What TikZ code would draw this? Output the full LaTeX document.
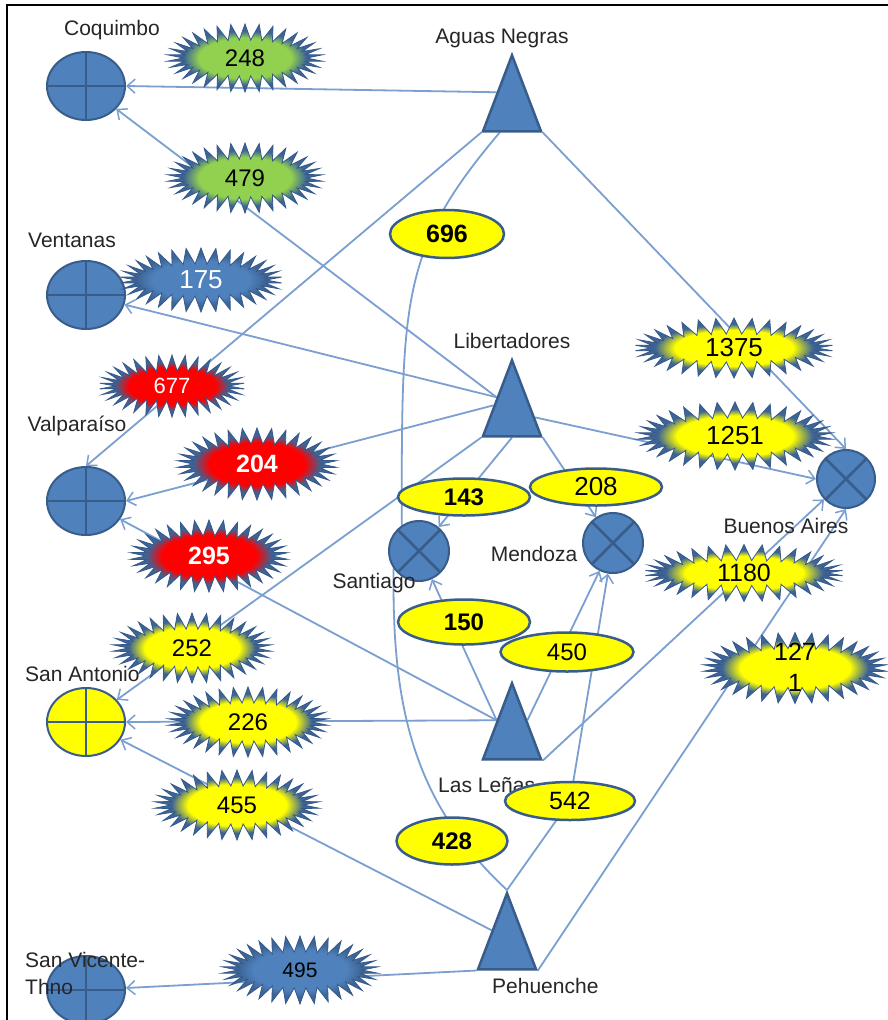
\documentclass[tikz,border=0pt]{standalone}
\usepackage{fontspec}
\setmainfont{Liberation Sans}
\usetikzlibrary{shapes.geometric,shapes.symbols,arrows.meta,calc,backgrounds}
\definecolor{lineBlue}{HTML}{7A9FD0}
\definecolor{nodeBlue}{HTML}{4F81BD}
\definecolor{nodeBorder}{HTML}{385D8A}
\definecolor{sbBlue}{HTML}{3D6494}
\definecolor{sbEdge}{HTML}{35598A}
\definecolor{txtGray}{HTML}{262626}
\definecolor{glowGreen}{HTML}{92D050}
\definecolor{glowYellow}{HTML}{FFFF00}
\definecolor{glowRed}{HTML}{FF0000}
\pgfdeclareradialshading{glowY}{\pgfpoint{0bp}{0bp}}{color(0bp)=(glowYellow); color(15bp)=(glowYellow); color(20bp)=(sbBlue); color(50bp)=(sbBlue)}
\pgfdeclareradialshading{glowG}{\pgfpoint{0bp}{0bp}}{color(0bp)=(glowGreen); color(15bp)=(glowGreen); color(20bp)=(sbBlue); color(50bp)=(sbBlue)}
\pgfdeclareradialshading{glowR}{\pgfpoint{0bp}{0bp}}{color(0bp)=(glowRed); color(15bp)=(glowRed); color(20bp)=(sbBlue); color(50bp)=(sbBlue)}
\pgfdeclareradialshading{glowB}{\pgfpoint{0bp}{0bp}}{color(0bp)=(nodeBlue); color(15bp)=(nodeBlue); color(20bp)=(sbBlue); color(50bp)=(sbBlue)}
\tikzset{
  conn/.style={draw=lineBlue, line width=1.8pt},
  arr/.style={conn, -{Straight Barb[length=8pt,width=14pt,line width=1.5pt]}},
  port/.style={ellipse, draw=nodeBorder, line width=2pt, fill=nodeBlue, minimum width=78pt, minimum height=68pt, inner sep=0pt,
    path picture={\draw[nodeBorder, line width=2.5pt] (path picture bounding box.north) -- (path picture bounding box.south) (path picture bounding box.west) -- (path picture bounding box.east);}},
  city/.style={circle, draw=nodeBorder, line width=2pt, fill=nodeBlue, minimum size=60pt, inner sep=0pt,
    path picture={\draw[nodeBorder, line width=2.5pt] (path picture bounding box.north west) -- (path picture bounding box.south east) (path picture bounding box.north east) -- (path picture bounding box.south west);}},
  pass/.style={isosceles triangle, isosceles triangle stretches, shape border rotate=90, draw=nodeBorder, line width=2.5pt, fill=nodeBlue, minimum width=58pt, minimum height=76pt, inner sep=0pt, anchor=apex},
  place/.style={text=txtGray, font=\fontsize{21}{27}\selectfont, inner sep=0pt},
  burst/.style={starburst, starburst points=34, starburst point height=16pt, random starburst=0, draw=sbEdge, line width=0.8pt, inner sep=0pt, font=\fontsize{24}{31}\selectfont, shade},
  lens/.style={ellipse, draw=nodeBorder, line width=2.5pt, fill=glowYellow, inner sep=0pt, font=\fontsize{24}{26}\selectfont},
}
\begin{document}
\begin{tikzpicture}[x=1pt, y=-1pt]
\useasboundingbox (0,0) rectangle (888,1020);
\draw[line width=2pt] (7,1020) -- (7,5) -- (888,5);

% ports
\node[port] (coq) at (86,86) {};
\node[port] (ven) at (86,295) {};
\node[port] (val) at (86,501) {};
\node[port, fill=glowYellow] (sa) at (86,722) {};
\node[port] (svt) at (86,990) {};
% cities
\node[city] (stg) at (419,551) {};
\node[city] (men) at (613,543) {};
\node[city, minimum size=58pt] (ba) at (846,479) {};
% passes
\node[pass] (an) at (512,52) {};
\node[pass] (lib) at (512,357) {};
\node[pass] (ll) at (512,680) {};
\node[pass] (pe) at (507,890) {};

% place names
\node[place, anchor=base] (tcoq) at (112,35) {Coquimbo};
\node[place, anchor=base] (tan) at (502,43) {Aguas Negras};
\node[place, anchor=base] (tven) at (72,247) {Ventanas};
\node[place, anchor=base] (tlib) at (512,348) {Libertadores};
\node[place, anchor=base] (tval) at (77,431) {Valparaíso};
\node[place, anchor=base] (tstg) at (374,588) {Santiago};
\node[place, anchor=base] (tmen) at (534,561) {Mendoza};
\node[place, anchor=base] (tba) at (786,533) {Buenos Aires};
\node[place, anchor=base west] (tsa) at (25,681) {San Antonio};
\node[place, anchor=base west] (tll) at (438,792) {Las Leñas};
\node[place, anchor=base west] (tpe) at (492,993) {Pehuenche};
\node[place, anchor=base west, align=left] (tsvt) at (25,994) {San Vicente-\\Thno};

% flow labels: starbursts
\node[burst, shading=glowG, minimum width=155pt, minimum height=68pt] (s248) at (245,58) {248};
\node[burst, shading=glowG, minimum width=155pt, minimum height=70pt] (s479) at (245,178) {479};
\node[burst, shading=glowB, minimum width=162pt, minimum height=64pt, text=white, font=\fontsize{26}{28}\selectfont] (s175) at (201,280) {175};
\node[burst, shading=glowR, minimum width=145pt, minimum height=62pt, text=white, font=\fontsize{22}{24}\selectfont] (s677) at (172,386) {677};
\node[burst, shading=glowR, minimum width=160pt, minimum height=72pt, text=white, font=\fontsize{25}{27}\selectfont\bfseries] (s204) at (257,464) {204};
\node[burst, shading=glowR, minimum width=158pt, minimum height=72pt, text=white, font=\fontsize{25}{27}\selectfont\bfseries] (s295) at (209,556) {295};
\node[burst, shading=glowY, minimum width=159pt, minimum height=70pt] (s252) at (192,648) {252};
\node[burst, shading=glowY, minimum width=160pt, minimum height=70pt] (s226) at (248,722) {226};
\node[burst, shading=glowY, minimum width=165pt, minimum height=70pt] (s455) at (237,805) {455};
\node[burst, shading=glowB, minimum width=156pt, minimum height=68pt, font=\fontsize{21}{23}\selectfont] (s495) at (300,970) {495};
\node[burst, shading=glowY, minimum width=198pt, minimum height=60pt, font=\fontsize{26}{28}\selectfont] (s1375) at (734,348) {1375};
\node[burst, shading=glowY, minimum width=195pt, minimum height=68pt, font=\fontsize{26}{28}\selectfont] (s1251) at (735,436) {1251};
\node[burst, shading=glowY, minimum width=198pt, minimum height=55pt, font=\fontsize{25}{27}\selectfont] (s1180) at (744,573) {1180};
\node[burst, shading=glowY, minimum width=184pt, minimum height=71pt, font=\fontsize{25}{31}\selectfont] (s1271) at (795,668) {\smash{\raisebox{-8pt}{\begin{tabular}{@{}c@{}}127\\1\end{tabular}}}};

% flow labels: ellipses
\node[lens, minimum width=114pt, minimum height=48pt, font=\fontsize{25}{27}\selectfont\bfseries] (e696) at (447,234) {696};
\node[lens, minimum width=132pt, minimum height=37pt, font=\fontsize{24}{26}\selectfont\bfseries] (e143) at (464,497) {143};
\node[lens, minimum width=132pt, minimum height=37pt, font=\fontsize{26}{28}\selectfont] (e208) at (596,487) {208};
\node[lens, minimum width=132pt, minimum height=45pt, font=\fontsize{24}{26}\selectfont\bfseries] (e150) at (464,622) {150};
\node[lens, minimum width=133pt, minimum height=39pt] (e450) at (567,652) {450};
\node[lens, minimum width=130pt, minimum height=38pt, font=\fontsize{25}{27}\selectfont] (e542) at (570,801) {542};
\node[lens, minimum width=111pt, minimum height=47pt, font=\fontsize{24}{26}\selectfont\bfseries] (e428) at (452,841) {428};

% connectors
\begin{scope}[on background layer]
\fill[white] (0,0) rectangle (888,1020);
% Aguas Negras
\draw[arr] (an.left side) -- (coq.east);
\draw[arr] (an.left corner) -- (val.north);
\draw[conn] ($(an.left corner)!0.3!(an.right corner)$) .. controls (400,250) and (402,300) .. (stg.124);
\draw[arr] (an.right corner) -- (ba.north);
% Libertadores
\draw[arr] (lib.left side) -- (coq);
\draw[arr] (lib.left side) -- (ven);
\draw[arr] ($(lib.apex)!0.6!(lib.left corner)$) -- (val.east);
\draw[arr] (lib.left corner) -- (sa);
\draw[arr] (lib.lower side) -- (stg);
\draw[arr] (lib.right corner) -- (men);
\draw[arr] ($(lib.apex)!0.75!(lib.right corner)$) -- (ba.west);
% Las Lenas
\draw[arr] (ll.left side) -- (val);
\draw[arr] (ll.left side) -- (sa.east);
\draw[arr] (ll.left side) -- (stg);
\draw[arr] (ll.right side) -- (men);
\draw[arr] (ll.right corner) -- (ba);
% Pehuenche
\draw[arr] (pe.left side) -- (sa);
\draw[arr] (pe.left corner) -- (svt);
\draw[conn] (pe.apex) .. controls (410,800) and (392,700) .. (stg.215);
\draw[arr] (pe.apex) -- (e542.center) -- (men);
\draw[arr] (pe.right corner) -- (ba.south);
\end{scope}
\end{tikzpicture}
\end{document}
